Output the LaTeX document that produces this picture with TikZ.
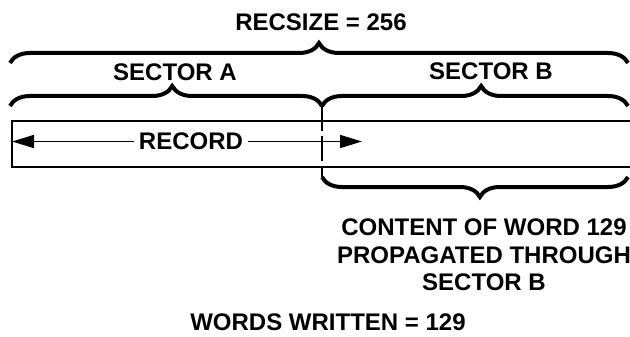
\documentclass[tikz,border=0pt]{standalone}
\usepackage{fontspec}
\setmainfont{Liberation Sans}
\usetikzlibrary{decorations.pathreplacing,arrows.meta}

\begin{document}
\begin{tikzpicture}[x=1pt,y=-1pt,
  lbl/.style={font=\fontsize{24}{27.5}\selectfont\bfseries, inner sep=4pt},
  brc/.style={decorate, decoration={brace,amplitude=20pt,aspect=#1}, line width=4pt},
  brc/.default=0.5,
  arr/.style={-{Triangle[length=22pt,width=13pt]}, line width=1.6pt}]
\useasboundingbox (0,0) rectangle (630,337);

\node[lbl] (recsize) at (321,22) {RECSIZE = 256};
\draw[brc] (10,63) -- (628,63);

\node[lbl] (secA) at (175,72) {SECTOR A};
\node[lbl] (secB) at (491,71) {SECTOR B};
\coordinate (split) at (322,106);
\coordinate (splitlow) at (322,177);
\draw[brc=0.52] (10,106) -- (split);
\draw[brc=0.52] (split) -- (628,106);

\draw[line width=2.4pt] (630,121) -- (12,121) -- (12,167) -- (630,167);
\draw[line width=2.4pt, dash pattern=on 25pt off 5pt] (split) -- (splitlow);

\node[lbl, inner sep=5pt] (record) at (191,141.5) {RECORD};
\coordinate (lend) at (12,141.5);
\coordinate (rend) at (362,141.5);
\draw[arr] (record.west) -- (lend);
\draw[arr] (record.east) -- (rend);

\draw[brc=0.484] (628,177) -- (splitlow);

\node[lbl, align=center] (content) at (484,255) {CONTENT OF WORD 129\\PROPAGATED THROUGH\\SECTOR B};
\node[lbl] (written) at (328,322) {WORDS WRITTEN = 129};
\end{tikzpicture}
\end{document}
